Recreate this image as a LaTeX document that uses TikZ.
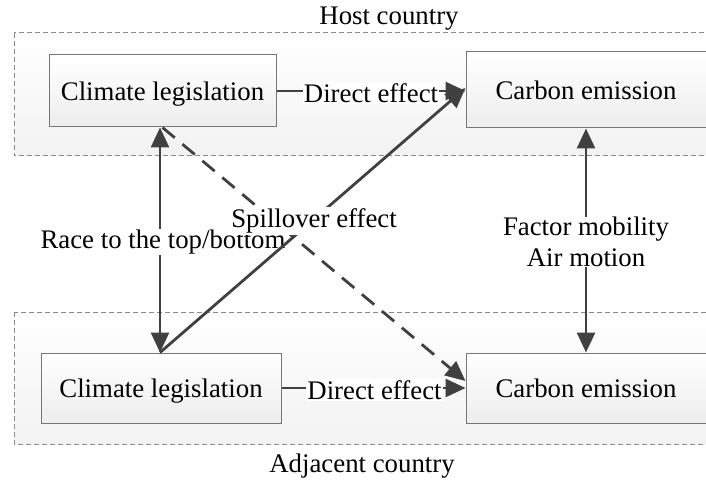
\documentclass[tikz,border=0pt]{standalone}
\usepackage{fontspec}
\setmainfont{Liberation Serif}
\usetikzlibrary{arrows.meta}
\definecolor{arrgray}{HTML}{404040}
\definecolor{boxline}{HTML}{767676}
\definecolor{dashline}{HTML}{8A8A8A}
\tikzset{
  txt/.style={font=\fontsize{26.8}{31}\selectfont, inner sep=1pt},
  inbox/.style={txt, draw=boxline, line width=1pt, top color=white, bottom color=gray!14, inner sep=0pt, text depth=0pt},
  outbox/.style={draw=dashline, line width=1pt, dash pattern=on 5pt off 3pt, top color=white, bottom color=gray!10},
  arr/.style={draw=arrgray, line width=2.8pt, -{Triangle[length=20pt,width=18pt]}},
  darr/.style={draw=arrgray, line width=2.8pt, {Triangle[length=20pt,width=18pt]}-{Triangle[length=20pt,width=18pt]}},
  dasharr/.style={arr, dash pattern=on 16pt off 10pt},
  lbl/.style={txt, fill=white, inner sep=1pt}
}
\begin{document}
\begin{tikzpicture}[x=1pt,y=-1pt]
\useasboundingbox (0,0) rectangle (706,481);
\clip (0,0) rectangle (706,481);
% outer country boxes
\path[outbox] (14,33) rectangle (720,156);
\path[outbox] (14,312) rectangle (720,444);
\node[txt] (host) at (389,19) {Host country};
\node[txt] (adj) at (362,466) {Adjacent country};
% inner boxes
\node[inbox, minimum width=227pt, minimum height=72pt] (hcl) at (162.5,91) {Climate legislation};
\node[inbox, minimum width=240pt, minimum height=76pt] (hce) at (586,90) {Carbon emission};
\node[inbox, minimum width=240pt, minimum height=70pt] (acl) at (161,388) {Climate legislation};
\node[inbox, minimum width=240pt, minimum height=70pt] (ace) at (586,388) {Carbon emission};
% direct effects
\draw[arr] (hcl.east) -- node[lbl, yshift=-2pt] (de1) {Direct effect} (hcl.east -| hce.west);
\draw[arr] (acl.east) -- node[lbl, xshift=1pt, yshift=-2pt] (de2) {Direct effect} (acl.east -| ace.west);
% race to the top/bottom
\draw[darr] ([xshift=-2.5pt]hcl.south) -- ([xshift=-2.5pt]hcl.south |- acl.north);
\node[lbl] (race) at (163,242) {Race to the top/bottom};
% factor mobility / air motion
\draw[darr] (hce.south) -- (hce.south |- ace.north);
\node[lbl, align=center, inner sep=0pt] (fm) at (586,242) {Factor mobility\\Air motion};
% spillover
\draw[arr] ([xshift=-1pt]acl.north) -- ([yshift=2pt]hce.west);
\draw[dasharr] (hcl.south) -- ([yshift=7pt]ace.west);
\node[lbl, inner sep=2pt] (spill) at (314,221) {Spillover effect};
\end{tikzpicture}
\end{document}
